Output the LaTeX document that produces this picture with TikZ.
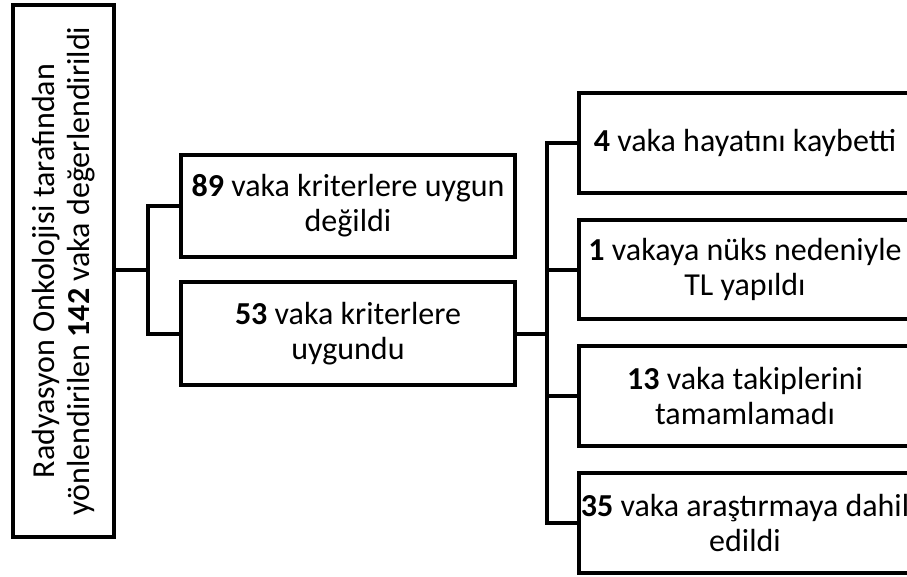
\documentclass[tikz,border=0pt]{standalone}
\usepackage{fontspec}
\setmainfont{Carlito}
\usetikzlibrary{calc}
\tikzstyle{box} = [rectangle, draw=black, line width=4pt, align=center,
inner sep=0pt, font=\fontsize{32}{35}\selectfont]
\tikzstyle{link} = [line width=4pt]

\begin{document}
\begin{tikzpicture}[x=1pt, y=-1pt]
            \useasboundingbox (0,0) rectangle (907,576);
            \clip (0,0) rectangle (907,576);
            \node[box, rotate=90, minimum width=532, minimum height=101] (src) at (63.5,271)
            {Radyasyon Onkolojisi tarafından\\yönlendirilen \textbf{142} vaka değerlendirildi};
            \node[box, minimum width=334, minimum height=102] (unfit) at (348,206)
            {\textbf{89} vaka kriterlere uygun\\değildi};
            \node[box, minimum width=334, minimum height=103] (fit) at (348,333.5)
            {\textbf{53} vaka kriterlere\\uygundu};
            \node[box, minimum width=332, minimum height=100] (died) at (745,143)
            {\textbf{4} vaka hayatını kaybetti};
            \node[box, minimum width=332, minimum height=99] (relapse) at (745,269.5)
            {\textbf{1} vakaya nüks nedeniyle\\TL yapıldı};
            \node[box, minimum width=332, minimum height=100] (lost) at (745,396)
            {\textbf{13} vaka takiplerini\\tamamlamadı};
            \node[box, minimum width=332, minimum height=100] (incl) at (745,523)
            {\textbf{35} vaka araştırmaya dahil\\edildi};
            \coordinate (split1) at (148,270);
            \coordinate (split2) at (547,333.5);
            \draw[link] (src.south |- split1) -- (split1);
            \draw[link] (unfit.west) -| (split1);
            \draw[link] (fit.west) -| (split1);
            \draw[link] (fit.east) -- (split2);
            \draw[link] (died.west) -| (split2);
            \draw[link] (relapse.west) -| (split2);
            \draw[link] (lost.west) -| (split2);
            \draw[link] (incl.west) -| (split2);
        \end{tikzpicture}
\end{document}
